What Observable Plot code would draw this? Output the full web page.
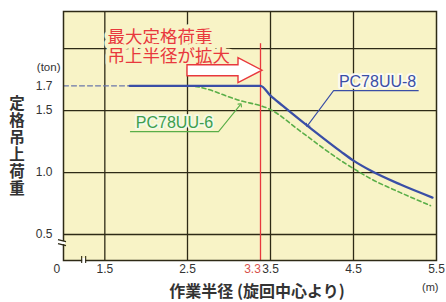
<!DOCTYPE html>
<html><head><meta charset="utf-8">
<script src="https://cdn.jsdelivr.net/npm/d3@7"></script>
<script src="https://cdn.jsdelivr.net/npm/@observablehq/plot@0.6"></script>
<style>body{margin:0;background:#fff}</style>
</head><body><div id="chart"></div>
<script>
// ---- data ----
const pc8Radius = [1.8, 3.3, 3.5, 3.645, 3.867, 3.988, 4.349, 4.5, 4.705, 5.066, 5.452];
const pc8Load   = [1.7, 1.7, 1.621, 1.54, 1.419, 1.355, 1.169, 1.096, 1.016, 0.903, 0.798];
const pc6Radius = [2.0, 2.5, 3.08, 3.5, 3.867, 4.349, 4.5, 4.705, 5.066, 5.428];
const pc6Load   = [1.7, 1.7, 1.58, 1.508, 1.330, 1.096, 1.032, 0.951, 0.838, 0.733];
const extRadius = [1.0, 1.8];
const extLoad   = [1.7, 1.7];
const xTicks = [1.5, 2.5, 3.5, 4.5, 5.5];
const yTicks = [0.5, 1.0, 1.5, 1.7];
const xGrid = [1.5, 2.5, 3.5, 4.5];
const yGrid = [0.5, 1.0, 1.5, 2.0];
const maxRadius = 3.3;
const prevRadius = 2.5;
const seriesNames = ["PC78UU-8", "PC78UU-6"];
const annotLines = ["最大定格荷重", "吊上半径が拡大"];
const yTitle = "定格吊上荷重";
const xTitle = "作業半径 (旋回中心より)";

// ---- layout / scales ----
const W = 446, H = 302, ML = 63, MR = 10, MT = 11, MB = 42;
const xDomain = [1.0, 2.5, 3.3, 3.5, 5.5];          // schematic (non-uniform) axis
const xRange  = [ML, 187, 260, 270, W - MR];
const yDomain = [0.29, 2.3];

const blue = "#3a4ea6", green = "#5aae48", red = "#e8383d", grid = "#2e2a16", bg = "#f8f3c6";
const latin = "Liberation Sans, Arial, sans-serif";
const cjk = "'Noto Sans CJK JP', sans-serif";

const pc8 = pc8Radius.map((r, i) => ({r, v: pc8Load[i]}));
const pc6 = pc6Radius.map((r, i) => ({r, v: pc6Load[i]}));
const ext = extRadius.map((r, i) => ({r, v: extLoad[i]}));

const lbl8 = {x: 4.79, y: 1.734, ux1: 5.28, ux0: 4.26, uy: 1.661, tx: 3.946, ty: 1.379};
const lbl6 = {x: 2.343, y: 1.403, ux1: 1.81, ux0: 2.84, uy: 1.33, tx: 3.08, ty: 1.548};

const arrowMark = (index, {x, y}) => {
  const x0 = x(prevRadius), x1 = x(maxRadius) + 2, yc = y(1.822);
  const hl = 24, sh = 5.5, hh = 12.5;
  const d = `M${x0},${yc - sh}L${x1 - hl},${yc - sh}L${x1 - hl},${yc - hh}L${x1},${yc}L${x1 - hl},${yc + hh}L${x1 - hl},${yc + sh}L${x0},${yc + sh}Z`;
  return d3.create("svg:path").attr("d", d).attr("fill", "#fff").attr("stroke", red)
    .attr("stroke-width", 1.4).attr("stroke-linejoin", "miter").node();
};

const breakMark = (index, {x, y}) => {
  const g = d3.create("svg:g");
  const left = x(xDomain[0]), bottom = y(yDomain[0]);
  const by = y(0.43), bx = x(1.25);
  g.append("rect").attr("x", left - 2).attr("y", by - 1.5).attr("width", 4).attr("height", 3).attr("fill", "#fff");
  g.append("path").attr("d", `M${left - 5},${by - 3}L${left + 3},${by - 1}M${left - 5},${by + 1}L${left + 3},${by + 3}`)
    .attr("stroke", grid).attr("stroke-width", 1.1).attr("fill", "none");
  g.append("rect").attr("x", bx - 1.5).attr("y", bottom - 2).attr("width", 3).attr("height", 4).attr("fill", "#fff");
  g.append("path").attr("d", `M${bx - 2},${bottom - 4}L${bx - 2},${bottom + 3}M${bx + 2},${bottom - 4}L${bx + 2},${bottom + 3}`)
    .attr("stroke", grid).attr("stroke-width", 1.1).attr("fill", "none");
  return g.node();
};

const yTitleMark = (index, {y}, values, dims) => {
  const t = d3.create("svg:text")
    .attr("x", dims.marginLeft - 46)
    .attr("y", (dims.height - dims.marginBottom + dims.marginTop) / 2 + 10.5)
    .attr("text-anchor", "middle")
    .attr("fill", "#333")
    .style("writing-mode", "vertical-rl")
    .style("font-family", cjk)
    .style("font-size", "15.5px")
    .style("font-weight", "bold")
    .style("letter-spacing", "1.5px")
    .text(yTitle);
  return t.node();
};

const chart = Plot.plot({
  width: W, height: H,
  marginLeft: ML, marginRight: MR, marginTop: MT, marginBottom: MB,
  style: {background: "#fff", fontFamily: latin, fontSize: "12px", color: "#333", overflow: "visible"},
  x: {type: "linear", domain: xDomain, range: xRange, axis: null},
  y: {domain: yDomain, axis: null},
  marks: [
    Plot.frame({fill: bg, stroke: "none"}),
    Plot.ruleX(xGrid, {stroke: grid, strokeWidth: 1.3}),
    Plot.ruleY(yGrid, {stroke: grid, strokeWidth: 1.3}),
    // red annotation
    Plot.text([annotLines.join("\n")], {frameAnchor: "top-left", dx: 44, dy: 19, textAnchor: "start", lineAnchor: "top",
      lineHeight: 1.04, fill: red, fontSize: 17.5, fontFamily: cjk, stroke: bg, strokeWidth: 8, paintOrder: "stroke"}),
    Plot.ruleX([maxRadius], {y1: yDomain[0], y2: 2.04, stroke: red, strokeWidth: 1.3}),
    arrowMark,
    // curves
    Plot.line(ext, {x: "r", y: "v", stroke: "#6a77aa", strokeWidth: 1.2, strokeDasharray: "5,3"}),
    Plot.line(pc6, {x: "r", y: "v", stroke: green, strokeWidth: 1.6, strokeDasharray: "4,3", curve: "monotone-x"}),
    Plot.line(pc8, {x: "r", y: "v", stroke: blue, strokeWidth: 2.3, curve: "monotone-x"}),
    // series labels
    Plot.line([[lbl8.ux1, lbl8.uy], [lbl8.ux0, lbl8.uy], [lbl8.tx, lbl8.ty]], {stroke: blue, strokeWidth: 1.1, markerEnd: "arrow"}),
    Plot.text([seriesNames[0]], {x: () => lbl8.x, y: () => lbl8.y, fill: blue, fontSize: 16, fontFamily: latin,
      stroke: "#fbfbf0", strokeWidth: 4, paintOrder: "stroke"}),
    Plot.line([[lbl6.ux1, lbl6.uy], [lbl6.ux0, lbl6.uy], [lbl6.tx, lbl6.ty]], {stroke: green, strokeWidth: 1.1, markerEnd: "arrow"}),
    Plot.text([seriesNames[1]], {x: () => lbl6.x, y: () => lbl6.y, fill: "#3e9e4e", fontSize: 16, fontFamily: latin,
      stroke: "#f4f9e4", strokeWidth: 4, paintOrder: "stroke"}),
    Plot.frame({stroke: grid, strokeWidth: 1.5}),
    breakMark,
    // axes labels
    Plot.text(yTicks, {y: d => d, text: d => d3.format(".1f")(d), frameAnchor: "left", dx: -11, textAnchor: "end", fill: "#333", fontSize: 12}),
    Plot.text(xTicks, {x: d => d, text: d => d3.format(".1f")(d), frameAnchor: "bottom", dy: 12, fill: "#333", fontSize: 12}),
    Plot.text([maxRadius], {x: d => d, text: d => d3.format(".1f")(d), frameAnchor: "bottom", dy: 12, dx: -8, fill: "#d8504c", fontSize: 12}),
    Plot.text(["0"], {frameAnchor: "bottom-left", dx: -10, dy: 12, fill: "#333", fontSize: 12}),
    Plot.text(["(ton)"], {frameAnchor: "top-left", dx: -3, dy: 51, textAnchor: "end", fill: "#333", fontSize: 11.5}),
    Plot.text(["(m)"], {frameAnchor: "bottom-right", dx: 2, dy: 30, fill: "#333", fontSize: 11}),
    yTitleMark,
    Plot.text([xTitle], {frameAnchor: "bottom", dx: 7, dy: 36, fill: "#333", fontSize: 16, fontWeight: "bold", fontFamily: cjk})
  ]
});
document.getElementById("chart").appendChild(chart);
</script>
</body></html>
